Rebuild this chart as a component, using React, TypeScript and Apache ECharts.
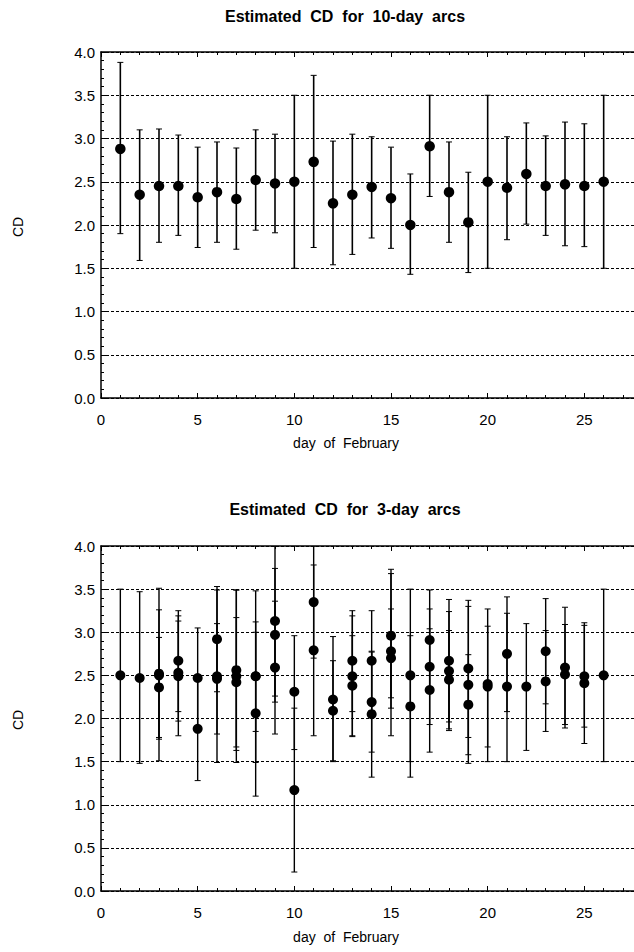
import React, { useEffect, useRef } from "react";
import * as echarts from "echarts";

// ---- 10-day arcs (top panel) ----
const days10 = [1, 2, 3, 4, 5, 6, 7, 8, 9, 10, 11, 12, 13, 14, 15, 16, 17, 18, 19, 20, 21, 22, 23, 24, 25, 26];
const cd10 = [2.88, 2.35, 2.45, 2.45, 2.32, 2.38, 2.30, 2.52, 2.48, 2.50, 2.73, 2.25, 2.35, 2.44, 2.31, 2.00, 2.91, 2.38, 2.03, 2.50, 2.43, 2.59, 2.45, 2.47, 2.45, 2.50];
const lo10 = [1.90, 1.59, 1.80, 1.88, 1.74, 1.80, 1.72, 1.94, 1.91, 1.50, 1.74, 1.54, 1.66, 1.85, 1.73, 1.43, 2.33, 1.80, 1.45, 1.50, 1.83, 2.01, 1.88, 1.76, 1.75, 1.50];
const hi10 = [3.88, 3.10, 3.11, 3.04, 2.90, 2.96, 2.89, 3.10, 3.05, 3.50, 3.73, 2.97, 3.05, 3.02, 2.90, 2.59, 3.50, 2.96, 2.61, 3.50, 3.02, 3.18, 3.03, 3.19, 3.17, 3.50];

// ---- 3-day arcs (bottom panel) ----
const days3 = [
  1, 2, 3, 3, 3, 4, 4, 4, 5, 5, 6, 6, 6, 7, 7, 7, 8, 8, 8, 9, 9, 9, 10, 10, 11, 11, 12, 12,
  13, 13, 13, 14, 14, 14, 15, 15, 15, 16, 16, 17, 17, 17, 18, 18, 18, 19, 19, 19, 20, 20,
  21, 21, 22, 23, 23, 24, 24, 25, 25, 26,
];
const cd3 = [
  2.50, 2.47, 2.52, 2.50, 2.36, 2.67, 2.53, 2.49, 2.47, 1.88, 2.92, 2.49, 2.46, 2.56, 2.49, 2.42, 2.49, 2.49, 2.06, 3.13, 2.97, 2.59, 2.31, 1.17, 3.35, 2.79, 2.22, 2.09,
  2.67, 2.49, 2.38, 2.67, 2.19, 2.05, 2.96, 2.78, 2.70, 2.50, 2.14, 2.91, 2.60, 2.33, 2.67, 2.55, 2.45, 2.58, 2.39, 2.16, 2.40, 2.37,
  2.75, 2.37, 2.37, 2.78, 2.43, 2.59, 2.51, 2.49, 2.41, 2.50,
];
const lo3 = [
  1.50, 1.48, 1.51, 1.76, 1.78, 2.08, 1.80, 1.97, 1.89, 1.28, 2.31, 1.49, 1.82, 1.63, 1.49, 1.67, 1.49, 1.85, 1.10, 2.26, 2.19, 1.82, 1.64, 0.22, 2.70, 1.80, 1.50, 1.51,
  2.08, 1.79, 1.80, 2.08, 1.61, 1.32, 2.24, 1.80, 2.12, 1.50, 1.32, 2.33, 1.93, 1.61, 1.96, 1.86, 1.88, 1.78, 1.48, 1.58, 1.50, 1.67,
  2.08, 1.50, 1.63, 2.17, 1.85, 1.89, 1.93, 1.90, 1.71, 1.50,
];
const hi3 = [
  3.50, 3.47, 3.51, 3.26, 2.94, 3.25, 3.19, 3.13, 3.05, 2.48, 3.53, 3.49, 3.10, 3.49, 3.49, 3.17, 3.48, 3.12, 3.00, 4.00, 3.74, 3.36, 2.96, 2.12, 4.00, 3.78, 2.95, 2.67,
  3.25, 3.19, 2.96, 3.25, 2.77, 2.78, 3.68, 3.73, 3.27, 3.50, 2.96, 3.49, 3.27, 3.04, 3.38, 3.24, 3.02, 3.37, 3.30, 2.74, 3.27, 3.07,
  3.41, 3.22, 3.10, 3.39, 3.02, 3.29, 3.09, 3.08, 3.11, 3.50,
];

const yTicks = [0, 0.5, 1, 1.5, 2, 2.5, 3, 3.5, 4];
const xTickStep = 5;

const FONT = "'Liberation Sans', Arial, Helvetica, sans-serif";

export default function App() {
  const ref = useRef<HTMLDivElement>(null);

  useEffect(() => {
    if (!ref.current) return;
    const chart = echarts.init(ref.current, undefined, { renderer: "svg" });

    const errData10 = days10.map((d, i) => [d, lo10[i], hi10[i]]);
    const ptData10 = days10.map((d, i) => [d, cd10[i]]);
    const errData3 = days3.map((d, i) => [d, lo3[i], hi3[i]]);
    const ptData3 = days3.map((d, i) => [d, cd3[i]]);

    const errRender = (lw: number) => (params: any, api: any) => {
      const x = api.value(0);
      const lo = api.value(1);
      const hi = api.value(2);
      const pHi = api.coord([x, hi]);
      const pLo = api.coord([x, lo]);
      const w = 3;
      const st = { stroke: "#000", lineWidth: lw };
      return {
        type: "group",
        children: [
          { type: "line", shape: { x1: pHi[0], y1: pHi[1], x2: pLo[0], y2: pLo[1] }, style: st },
          { type: "line", shape: { x1: pHi[0] - w, y1: pHi[1], x2: pHi[0] + w, y2: pHi[1] }, style: { stroke: "#000", lineWidth: 1 } },
          { type: "line", shape: { x1: pLo[0] - w, y1: pLo[1], x2: pLo[0] + w, y2: pLo[1] }, style: { stroke: "#000", lineWidth: 1 } },
        ],
      };
    };

    const xBase = (gridIndex: number, pos: "bottom" | "top") => ({
      type: "value",
      gridIndex,
      position: pos,
      min: 0,
      max: 30,
      interval: xTickStep,
      axisLine: { show: true, onZero: false, lineStyle: { color: "#000", width: 1.5 } },
      axisTick: { show: true, inside: true, length: 5, lineStyle: { color: "#000", width: 1 } },
      minorTick: { show: true, splitNumber: 5, length: 3, lineStyle: { color: "#000", width: 1 } },
      splitLine: { show: false },
      axisLabel: pos === "bottom"
        ? { show: true, showMaxLabel: false, color: "#000", fontSize: 15, fontFamily: FONT, margin: 14 }
        : { show: false },
    });

    const yBase = (gridIndex: number) => ({
      type: "value",
      gridIndex,
      min: yTicks[0],
      max: yTicks[yTicks.length - 1],
      interval: yTicks[1] - yTicks[0],
      axisLine: { show: true, onZero: false, lineStyle: { color: "#000", width: 1.5 } },
      axisTick: { show: true, inside: true, length: 5, lineStyle: { color: "#000", width: 1 } },
      minorTick: { show: true, splitNumber: 5, length: 3, lineStyle: { color: "#000", width: 1 } },
      splitLine: { show: true, lineStyle: { color: "#000", width: 1, type: [3, 2] } },
      axisLabel: {
        color: "#000",
        fontSize: 15,
        fontFamily: FONT,
        margin: 6,
        formatter: (v: number) => v.toFixed(1),
      },
    });

    const textStyle = (text: string, bold: boolean, size: number) => ({
      text,
      fill: "#000",
      font: `${bold ? "bold " : ""}${size}px ${FONT}`,
      align: "center",
      verticalAlign: "middle",
    });

    chart.setOption({
      animation: false,
      backgroundColor: "#fff",
      grid: [
        { left: 101, top: 52, width: 580, height: 346, outerBoundsMode: "none", containLabel: false },
        { left: 101, top: 546, width: 580, height: 345, outerBoundsMode: "none", containLabel: false },
      ],
      xAxis: [xBase(0, "bottom"), xBase(0, "top"), xBase(1, "bottom"), xBase(1, "top")],
      yAxis: [yBase(0), yBase(1)],
      graphic: [
        { type: "text", x: 345, y: 16, style: textStyle("Estimated  CD  for  10-day  arcs", true, 16) },
        { type: "text", x: 346, y: 443, style: textStyle("day  of  February", false, 14) },
        { type: "text", x: 18, y: 227, rotation: Math.PI / 2, style: textStyle("CD", false, 14) },
        { type: "text", x: 345, y: 509, style: textStyle("Estimated  CD  for  3-day  arcs", true, 16) },
        { type: "text", x: 346, y: 937, style: textStyle("day  of  February", false, 14) },
        { type: "text", x: 18, y: 720, rotation: Math.PI / 2, style: textStyle("CD", false, 14) },
      ],
      series: [
        {
          type: "custom",
          xAxisIndex: 0,
          yAxisIndex: 0,
          renderItem: errRender(1.6),
          encode: { x: 0, y: [1, 2] },
          data: errData10,
          clip: true,
          silent: true,
        },
        {
          type: "scatter",
          xAxisIndex: 0,
          yAxisIndex: 0,
          symbol: "circle",
          symbolSize: 10.5,
          itemStyle: { color: "#000", opacity: 1 },
          data: ptData10,
          silent: true,
        },
        {
          type: "custom",
          xAxisIndex: 2,
          yAxisIndex: 1,
          renderItem: errRender(1.4),
          encode: { x: 0, y: [1, 2] },
          data: errData3,
          clip: true,
          silent: true,
        },
        {
          type: "scatter",
          xAxisIndex: 2,
          yAxisIndex: 1,
          symbol: "circle",
          symbolSize: 10,
          itemStyle: { color: "#000", opacity: 1 },
          data: ptData3,
          silent: true,
        },
      ],
    });

    return () => chart.dispose();
  }, []);

  return (
    <div
      ref={ref}
      style={{ position: "absolute", left: 0, top: 0, width: 634, height: 952, background: "#fff" }}
    />
  );
}
